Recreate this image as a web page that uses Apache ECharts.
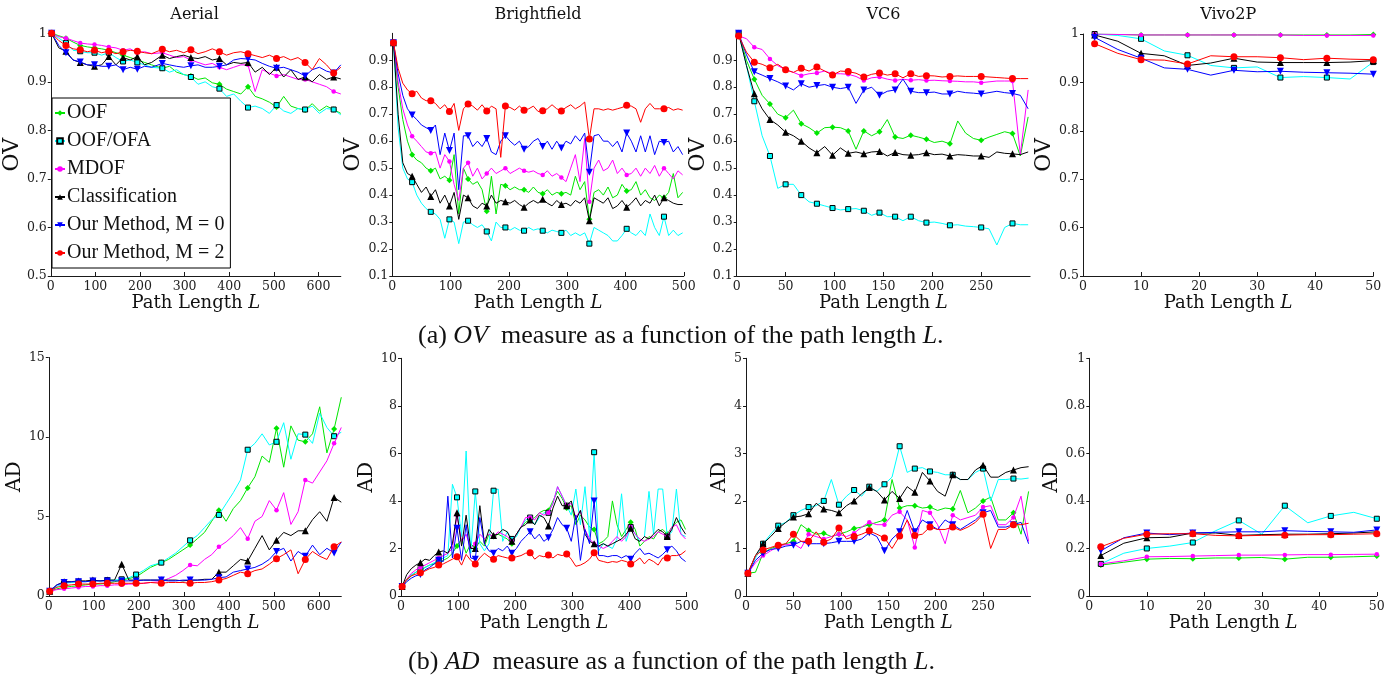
<!DOCTYPE html>
<html>
<head>
<meta charset="utf-8">
<script src="https://cdn.jsdelivr.net/npm/echarts@6/dist/echarts.min.js"></script>
<style>
  html, body { margin: 0; padding: 0; background: #fff; }
  #chart { width: 1396px; height: 677px; }
</style>
</head>
<body>
<div id="chart"></div>
<script>
// path lengths per dataset
const aerialL = [2,18,34,50,66,82,98,114,130,146,162,178,194,210,226,250,266,282,298,314,330,346,362,378,394,410,426,442,458,474,490,506,522,538,554,570,586,602,618,634,650];
const aerialMarks = [0,2,4,6,8,10,12,15,19,23,27,31,35,39];
const brightL = [2,10,18,26,34,42,50,58,66,74,82,90,98,106,114,122,130,138,146,154,162,170,178,186,194,202,210,218,226,234,242,250,258,266,274,282,290,298,306,314,322,330,338,346,354,362,370,378,386,394,402,410,418,426,434,442,450,458,466,474,482,490,498];
const brightMarks = [0,4,8,12,16,20,24,28,32,36,42,50,58];
const vc6L = [2,10,18,26,34,42,50,58,66,74,82,90,98,106,114,122,130,138,146,154,162,170,178,186,194,202,210,218,226,234,242,250,258,266,274,282,290,298];
const vc6Marks = [0,2,4,6,8,10,12,14,16,18,20,22,24,27,31,35];
const vivoL = [2,6,10,14,18,22,26,30,34,38,42,46,50];
const vivoMarks = [0,2,4,6,8,10,12];

// Aerial OV
const aerOV_oof = [1.0,0.995,0.99,0.982,0.975,0.972,0.97,0.968,0.965,0.96,0.955,0.95,0.945,0.94,0.935,0.928,0.932,0.92,0.915,0.912,0.905,0.908,0.898,0.895,0.885,0.88,0.875,0.89,0.87,0.865,0.858,0.848,0.87,0.85,0.845,0.842,0.855,0.84,0.85,0.843,0.835];
const aerOV_ofa = [1.0,0.99,0.98,0.965,0.963,0.96,0.96,0.955,0.96,0.95,0.942,0.945,0.94,0.935,0.93,0.928,0.92,0.925,0.915,0.91,0.895,0.9,0.89,0.886,0.87,0.875,0.86,0.847,0.85,0.845,0.835,0.852,0.84,0.835,0.845,0.843,0.85,0.835,0.845,0.843,0.832];
const aerOV_mdof = [1.0,0.993,0.99,0.985,0.98,0.978,0.977,0.975,0.972,0.97,0.965,0.968,0.96,0.962,0.958,0.96,0.955,0.95,0.952,0.945,0.94,0.935,0.938,0.93,0.925,0.93,0.935,0.935,0.88,0.925,0.918,0.912,0.915,0.91,0.905,0.905,0.9,0.895,0.89,0.88,0.875];
const aerOV_cls = [1.0,0.97,0.963,0.945,0.94,0.935,0.932,0.935,0.952,0.935,0.95,0.945,0.952,0.935,0.94,0.955,0.948,0.952,0.955,0.95,0.948,0.952,0.945,0.948,0.935,0.94,0.938,0.94,0.92,0.93,0.915,0.93,0.91,0.925,0.905,0.91,0.9,0.915,0.905,0.91,0.906];
const aerOV_m0 = [1.0,0.975,0.96,0.945,0.941,0.935,0.935,0.932,0.932,0.935,0.925,0.93,0.926,0.932,0.93,0.938,0.935,0.932,0.93,0.933,0.935,0.93,0.93,0.932,0.935,0.945,0.948,0.947,0.945,0.938,0.932,0.928,0.93,0.925,0.92,0.912,0.925,0.93,0.922,0.918,0.935];
const aerOV_m2 = [1.0,0.985,0.975,0.968,0.966,0.962,0.965,0.96,0.963,0.958,0.962,0.965,0.963,0.96,0.958,0.967,0.962,0.965,0.96,0.966,0.958,0.962,0.968,0.962,0.955,0.96,0.962,0.958,0.954,0.95,0.955,0.948,0.952,0.945,0.95,0.94,0.925,0.948,0.935,0.918,0.93];

// Aerial AD
const aerAD_oof = [0.3,0.45,0.55,0.6,0.65,0.7,0.75,0.75,0.8,0.9,1.0,1.1,1.2,1.5,1.8,2.1,2.3,2.6,2.9,3.2,3.6,4.0,4.7,5.4,4.7,5.5,6.0,6.8,7.5,8.8,8.4,10.55,8.1,10.7,9.8,9.7,10.2,11.9,9.0,10.5,12.5];
const aerAD_ofa = [0.3,0.6,0.8,0.85,0.9,0.9,0.95,0.95,1.0,1.0,1.05,1.15,1.35,1.6,1.9,2.1,2.4,2.7,3.1,3.5,3.8,4.3,4.8,5.1,5.8,6.5,7.3,9.2,9.6,10.2,9.5,9.7,10.9,8.6,10.2,10.15,9.6,11.5,10.6,10.05,10.3];
const aerAD_mdof = [0.3,0.4,0.45,0.5,0.55,0.6,0.6,0.65,0.65,0.7,0.7,0.75,0.75,0.8,0.85,0.9,1.1,1.3,1.6,1.95,1.9,2.3,2.6,3.1,3.4,3.8,4.3,3.6,4.7,5.0,6.0,5.4,6.5,4.5,5.3,7.3,7.1,7.8,8.5,9.6,10.6];
const aerAD_cls = [0.3,0.7,0.9,0.9,0.95,0.95,1.0,0.95,1.0,1.0,2.0,1.0,1.0,1.0,1.0,1.0,1.0,1.0,0.95,1.0,1.0,1.05,1.05,1.5,1.5,1.9,2.3,2.2,3.0,3.8,2.9,3.5,4.0,3.8,4.1,4.1,4.8,5.3,4.7,6.2,5.9];
const aerAD_m0 = [0.3,0.7,0.85,0.9,0.9,0.9,0.95,0.95,0.95,0.95,0.95,0.95,0.95,1.0,1.0,1.0,0.95,0.95,1.0,1.0,1.0,1.0,1.05,1.15,1.2,1.5,1.6,1.7,1.8,2.0,2.3,2.8,3.0,2.2,2.8,2.5,3.2,2.6,3.0,2.7,3.4];
const aerAD_m2 = [0.3,0.55,0.65,0.7,0.75,0.75,0.75,0.8,0.8,0.8,0.8,0.8,0.8,0.8,0.85,0.8,0.85,0.85,0.85,0.8,0.85,0.85,0.9,1.0,1.1,1.3,1.5,1.4,1.6,1.7,2.0,2.35,2.6,2.9,1.4,2.3,2.8,2.5,2.3,3.1,3.4];

// Brightfield OV
const briOV_oof = [0.965,0.8,0.68,0.6,0.55,0.53,0.52,0.5,0.49,0.5,0.46,0.47,0.455,0.55,0.33,0.5,0.46,0.44,0.45,0.42,0.34,0.47,0.33,0.44,0.435,0.42,0.43,0.42,0.42,0.41,0.43,0.41,0.405,0.42,0.4,0.41,0.405,0.41,0.4,0.47,0.42,0.45,0.31,0.41,0.42,0.4,0.43,0.39,0.4,0.44,0.415,0.42,0.45,0.4,0.42,0.39,0.38,0.4,0.39,0.41,0.48,0.39,0.41];
const briOV_ofa = [0.965,0.65,0.5,0.46,0.448,0.4,0.37,0.35,0.338,0.33,0.31,0.24,0.31,0.3,0.22,0.3,0.305,0.29,0.28,0.29,0.265,0.23,0.3,0.28,0.28,0.27,0.28,0.27,0.268,0.28,0.27,0.275,0.268,0.26,0.27,0.265,0.26,0.27,0.25,0.26,0.25,0.26,0.22,0.28,0.27,0.26,0.25,0.23,0.23,0.25,0.275,0.26,0.25,0.27,0.25,0.33,0.28,0.25,0.32,0.25,0.27,0.25,0.26];
const briOV_mdof = [0.965,0.82,0.72,0.66,0.618,0.6,0.58,0.56,0.555,0.56,0.5,0.55,0.525,0.44,0.38,0.5,0.52,0.47,0.5,0.46,0.48,0.5,0.48,0.49,0.5,0.48,0.49,0.5,0.49,0.485,0.49,0.48,0.475,0.49,0.47,0.48,0.465,0.45,0.5,0.55,0.45,0.61,0.375,0.5,0.53,0.49,0.5,0.53,0.48,0.5,0.475,0.48,0.5,0.47,0.5,0.48,0.51,0.47,0.5,0.48,0.46,0.49,0.475];
const briOV_cls = [0.965,0.7,0.52,0.48,0.47,0.44,0.41,0.43,0.395,0.42,0.37,0.4,0.36,0.41,0.31,0.4,0.39,0.36,0.35,0.37,0.36,0.4,0.37,0.38,0.375,0.37,0.38,0.365,0.355,0.37,0.38,0.37,0.385,0.37,0.36,0.38,0.365,0.37,0.36,0.38,0.37,0.39,0.305,0.39,0.38,0.37,0.39,0.35,0.36,0.38,0.355,0.37,0.39,0.36,0.38,0.37,0.4,0.36,0.39,0.38,0.37,0.365,0.365];
const briOV_m0 = [0.965,0.85,0.77,0.72,0.697,0.68,0.66,0.65,0.64,0.66,0.55,0.63,0.565,0.63,0.42,0.62,0.62,0.58,0.6,0.58,0.61,0.56,0.55,0.6,0.62,0.6,0.585,0.6,0.57,0.58,0.6,0.61,0.58,0.6,0.57,0.6,0.575,0.6,0.59,0.62,0.6,0.63,0.485,0.62,0.625,0.6,0.6,0.58,0.6,0.56,0.63,0.6,0.56,0.62,0.56,0.62,0.55,0.6,0.595,0.6,0.56,0.58,0.55];
const briOV_m2 = [0.965,0.87,0.815,0.79,0.776,0.785,0.76,0.75,0.75,0.74,0.72,0.735,0.71,0.74,0.64,0.72,0.738,0.73,0.715,0.735,0.712,0.73,0.72,0.54,0.73,0.725,0.715,0.73,0.715,0.72,0.73,0.71,0.713,0.72,0.735,0.72,0.712,0.725,0.735,0.72,0.73,0.745,0.608,0.72,0.72,0.715,0.72,0.715,0.72,0.725,0.733,0.73,0.72,0.67,0.72,0.74,0.72,0.72,0.72,0.725,0.715,0.72,0.715];

// Brightfield AD
const briAD_oof = [0.4,0.65,0.85,1.0,1.1,1.2,1.3,1.35,1.4,1.5,1.6,1.8,2.1,2.4,1.8,2.2,2.0,2.3,2.1,2.6,2.5,2.6,2.5,2.4,2.2,2.6,2.9,3.1,3.2,3.3,3.5,3.6,3.6,4.0,4.4,4.1,3.7,3.8,3.0,3.4,3.2,2.9,2.8,2.2,2.3,2.5,4.0,3.0,2.5,2.8,3.1,2.8,2.1,2.3,2.5,2.4,2.7,2.8,2.6,2.9,3.1,3.2,2.8];
const briAD_ofa = [0.4,0.7,0.9,1.0,1.1,1.2,1.3,1.4,1.5,1.6,1.7,4.7,4.15,2.5,6.1,1.8,4.4,2.2,1.9,2.2,4.43,4.5,2.3,2.7,2.4,2.5,2.9,3.2,3.3,3.0,3.3,3.5,3.5,3.9,4.6,4.2,3.8,3.4,4.5,3.0,4.6,2.5,6.05,1.9,2.2,2.1,2.0,2.4,4.3,2.3,2.9,2.6,2.3,2.5,4.4,2.6,4.5,4.5,2.5,2.7,4.5,2.6,2.5];
const briAD_mdof = [0.4,0.7,0.95,1.1,1.2,1.3,1.4,1.5,1.6,1.7,1.8,2.0,3.4,2.3,2.6,2.0,2.2,2.6,2.4,2.6,2.5,2.7,2.6,2.5,2.3,2.6,2.9,3.3,3.3,3.2,3.5,3.4,3.5,3.9,4.6,4.2,3.8,3.9,3.3,3.6,2.8,2.4,2.2,2.1,2.0,2.1,2.3,2.5,2.3,2.5,2.9,2.6,2.4,2.3,2.4,2.5,2.7,2.6,2.5,2.9,3.0,2.6,2.4];
const briAD_cls = [0.4,0.9,1.15,1.3,1.4,1.55,1.5,1.7,1.85,1.9,1.8,2.2,3.5,2.1,3.4,2.0,2.0,3.8,2.2,2.8,2.55,2.6,2.8,2.7,2.3,2.6,2.9,3.0,3.2,3.0,3.4,3.3,2.95,3.7,4.2,3.8,3.8,4.0,3.2,3.6,2.6,2.3,2.2,2.1,2.2,2.1,2.2,2.3,2.4,2.6,2.85,2.4,2.3,2.5,2.4,2.6,2.8,2.7,2.5,2.8,3.3,2.9,2.6];
const briAD_m0 = [0.4,0.6,0.75,0.85,0.9,1.1,1.2,1.35,1.5,1.45,4.2,1.6,2.85,1.5,3.0,1.6,1.55,3.3,2.2,1.9,1.8,2.0,1.9,2.1,1.8,2.0,2.3,2.5,2.7,2.4,2.6,2.3,2.45,2.8,3.3,3.0,2.85,2.3,3.4,1.5,2.8,2.2,4.0,1.7,1.7,1.65,1.7,1.7,1.6,1.7,1.55,1.8,2.0,1.75,1.8,1.7,1.6,1.75,1.95,2.1,1.9,1.6,1.45];
const briAD_m2 = [0.4,0.7,0.85,0.92,0.98,1.05,1.15,1.2,1.3,1.35,1.45,1.55,1.65,1.3,1.75,1.5,1.35,1.6,1.8,1.65,1.55,1.7,1.65,1.6,1.6,1.65,1.7,1.8,1.82,1.55,1.7,1.65,1.72,1.6,1.75,1.7,1.77,1.55,1.25,1.3,1.4,1.55,1.82,1.5,1.45,1.4,1.45,1.42,1.5,1.45,1.35,1.45,1.6,1.35,1.55,1.45,1.3,1.6,1.6,1.7,1.7,1.75,1.9];

// VC6 OV
const vcOV_oof = [1.0,0.9,0.83,0.77,0.738,0.7,0.687,0.715,0.665,0.65,0.63,0.65,0.652,0.65,0.638,0.57,0.638,0.62,0.635,0.68,0.615,0.61,0.622,0.615,0.607,0.595,0.6,0.59,0.675,0.63,0.61,0.603,0.615,0.625,0.635,0.628,0.545,0.69];
const vcOV_ofa = [1.0,0.88,0.748,0.62,0.545,0.425,0.44,0.44,0.4,0.375,0.368,0.36,0.352,0.345,0.348,0.35,0.342,0.325,0.335,0.32,0.32,0.305,0.32,0.305,0.298,0.3,0.295,0.288,0.29,0.285,0.283,0.28,0.275,0.215,0.28,0.295,0.29,0.29];
const vcOV_mdof = [0.99,0.98,0.948,0.94,0.905,0.88,0.865,0.855,0.843,0.85,0.853,0.86,0.85,0.85,0.848,0.84,0.825,0.835,0.838,0.83,0.825,0.83,0.826,0.828,0.825,0.826,0.824,0.823,0.822,0.82,0.82,0.817,0.82,0.823,0.823,0.823,0.55,0.79];
const vcOV_cls = [1.0,0.88,0.776,0.72,0.68,0.66,0.633,0.62,0.6,0.575,0.557,0.58,0.548,0.575,0.555,0.56,0.553,0.56,0.562,0.545,0.558,0.55,0.548,0.55,0.557,0.55,0.552,0.545,0.55,0.548,0.545,0.545,0.54,0.56,0.555,0.553,0.55,0.56];
const vcOV_m0 = [1.0,0.92,0.857,0.845,0.832,0.82,0.805,0.79,0.813,0.8,0.806,0.81,0.8,0.795,0.8,0.74,0.79,0.8,0.77,0.785,0.79,0.83,0.785,0.78,0.78,0.782,0.775,0.775,0.785,0.78,0.778,0.775,0.78,0.785,0.78,0.777,0.77,0.72];
const vcOV_m2 = [0.99,0.93,0.893,0.885,0.872,0.885,0.865,0.855,0.87,0.86,0.875,0.86,0.845,0.86,0.858,0.852,0.838,0.848,0.853,0.845,0.85,0.835,0.85,0.84,0.843,0.842,0.838,0.84,0.842,0.84,0.84,0.84,0.838,0.836,0.834,0.832,0.832,0.832];

// VC6 AD
const vcAD_oof = [0.48,0.5,0.9,1.0,1.05,1.1,1.15,1.5,1.38,1.3,1.32,1.25,1.3,1.35,1.42,1.45,1.5,1.55,1.6,2.45,1.85,1.9,1.9,1.85,1.87,1.8,1.85,1.83,2.22,1.75,1.85,2.0,2.08,1.6,1.6,1.75,1.3,2.2];
const vcAD_ofa = [0.48,0.8,1.1,1.3,1.48,1.55,1.7,1.8,1.87,1.9,2.0,2.45,1.92,2.1,2.23,2.1,2.3,2.2,2.35,2.5,3.15,2.6,2.68,2.7,2.62,2.6,2.55,2.55,2.45,2.45,2.6,2.68,2.0,2.45,2.45,2.47,2.46,2.48];
const vcAD_mdof = [0.48,0.7,0.85,0.95,1.05,1.08,1.1,1.0,1.3,1.25,1.2,1.25,1.3,1.25,1.32,1.45,1.55,1.5,1.5,1.7,1.77,1.6,1.02,1.8,1.75,1.5,1.1,1.7,1.6,1.65,1.7,1.87,1.9,1.5,1.5,1.65,2.1,1.15];
const vcAD_cls = [0.48,0.85,1.1,1.25,1.42,1.55,1.66,1.68,1.73,1.95,1.83,1.8,1.75,1.9,2.0,2.15,2.28,2.2,2.02,2.2,2.05,2.3,2.18,2.6,2.42,2.2,2.1,2.55,2.45,2.45,2.65,2.75,2.5,2.5,2.6,2.65,2.7,2.72];
const vcAD_m0 = [0.48,0.75,0.9,0.98,1.0,1.05,1.07,1.15,1.1,1.1,1.1,1.12,1.15,1.15,1.15,1.2,1.33,1.25,0.95,1.2,1.35,1.8,1.35,1.6,1.5,1.4,1.6,1.5,1.4,1.5,1.6,1.75,1.8,1.45,1.45,1.5,1.55,1.1];
const vcAD_m2 = [0.48,0.85,0.97,1.02,1.07,1.1,1.3,1.15,1.15,1.35,1.13,1.2,1.43,1.2,1.25,1.3,1.37,1.3,1.22,1.0,1.26,1.6,1.27,1.3,1.45,1.4,1.4,1.45,1.38,1.45,1.55,1.72,1.0,1.4,1.4,1.5,1.5,1.53];

// Vivo2P OV
const vivOV_oof = [1.0,0.999,0.998,0.998,0.998,0.998,0.998,0.998,0.998,0.998,0.998,0.998,0.999];
const vivOV_ofa = [1.0,0.997,0.99,0.965,0.956,0.935,0.93,0.932,0.91,0.912,0.91,0.907,0.942];
const vivOV_mdof = [1.0,0.999,0.998,0.998,0.998,0.998,0.998,0.998,0.998,0.997,0.997,0.997,0.997];
const vivOV_cls = [0.998,0.985,0.96,0.955,0.935,0.94,0.95,0.942,0.941,0.941,0.941,0.942,0.945];
const vivOV_m0 = [0.993,0.968,0.95,0.93,0.927,0.915,0.925,0.922,0.923,0.921,0.92,0.919,0.917];
const vivOV_m2 = [0.98,0.96,0.947,0.946,0.938,0.955,0.953,0.953,0.951,0.947,0.95,0.948,0.947];

// Vivo2P AD
const vivAD_oof = [0.13,0.142,0.155,0.158,0.157,0.16,0.16,0.162,0.155,0.163,0.163,0.165,0.168];
const vivAD_ofa = [0.135,0.18,0.2,0.21,0.225,0.275,0.318,0.26,0.38,0.308,0.337,0.352,0.325];
const vivAD_mdof = [0.135,0.148,0.165,0.166,0.168,0.17,0.172,0.172,0.173,0.174,0.174,0.175,0.176];
const vivAD_cls = [0.17,0.222,0.245,0.247,0.265,0.265,0.255,0.258,0.26,0.26,0.262,0.265,0.27];
const vivAD_m0 = [0.19,0.245,0.265,0.258,0.265,0.268,0.27,0.27,0.275,0.272,0.27,0.268,0.278];
const vivAD_m2 = [0.207,0.243,0.26,0.262,0.262,0.255,0.253,0.255,0.256,0.258,0.258,0.26,0.262];

const methods = [
  { name: 'OOF', color: '#00e600', symbol: 'diamond', size: 6 },
  { name: 'OOF/OFA', color: '#00ffff', symbol: 'rect', size: 5, border: '#000' },
  { name: 'MDOF', color: '#ff00ff', symbol: 'circle', size: 4.5 },
  { name: 'Classification', color: '#000000', symbol: 'triangle', size: 7 },
  { name: 'Our Method, M = 0', color: '#0000ff', symbol: 'path://M0,0L10,0L5,9Z', size: 7 },
  { name: 'Our Method, M = 2', color: '#ff0000', symbol: 'circle', size: 7 }
];

const panels = [
  { L: aerialL, marks: aerialMarks, ys: [aerOV_oof, aerOV_ofa, aerOV_mdof, aerOV_cls, aerOV_m0, aerOV_m2] },
  { L: brightL, marks: brightMarks, ys: [briOV_oof, briOV_ofa, briOV_mdof, briOV_cls, briOV_m0, briOV_m2] },
  { L: vc6L, marks: vc6Marks, ys: [vcOV_oof, vcOV_ofa, vcOV_mdof, vcOV_cls, vcOV_m0, vcOV_m2] },
  { L: vivoL, marks: vivoMarks, ys: [vivOV_oof, vivOV_ofa, vivOV_mdof, vivOV_cls, vivOV_m0, vivOV_m2] },
  { L: aerialL, marks: aerialMarks, ys: [aerAD_oof, aerAD_ofa, aerAD_mdof, aerAD_cls, aerAD_m0, aerAD_m2] },
  { L: brightL, marks: brightMarks, ys: [briAD_oof, briAD_ofa, briAD_mdof, briAD_cls, briAD_m0, briAD_m2] },
  { L: vc6L, marks: vc6Marks, ys: [vcAD_oof, vcAD_ofa, vcAD_mdof, vcAD_cls, vcAD_m0, vcAD_m2] },
  { L: vivoL, marks: vivoMarks, ys: [vivAD_oof, vivAD_ofa, vivAD_mdof, vivAD_cls, vivAD_m0, vivAD_m2] }
];

// layout of the 8 panels (px)
const grids = [
  { left: 48.3, top: 33.3, width: 292.5, height: 242.7 },
  { left: 392.3, top: 33.3, width: 291.5, height: 242.7 },
  { left: 736.7, top: 33.3, width: 293.4, height: 242.7 },
  { left: 1083, top: 34, width: 290.3, height: 242 },
  { left: 48.8, top: 357.5, width: 292.5, height: 238.5 },
  { left: 401, top: 358.3, width: 285.7, height: 237.7 },
  { left: 746, top: 358.3, width: 284.5, height: 237.7 },
  { left: 1089.3, top: 358.3, width: 287.5, height: 237.7 }
];
const xRange = [[0, 650, 100, false], [0, 500, 100, true], [0, 300, 50, false], [0, 50, 10, true]];
const yRange = [[0.5, 1, 0.1, true], [0.1, 1, 0.1, false], [0.1, 1, 0.1, false], [0.5, 1, 0.1, true],
                [0, 15, 5, true], [0, 10, 2, true], [0, 5, 1, true], [0, 1, 0.2, true]];
const yNames = ['OV', 'OV', 'OV', 'OV', 'AD', 'AD', 'AD', 'AD'];
const yNameGap = [22, 28, 22, 25, 12, 19, 13, 24];
const titles = ['Aerial', 'Brightfield', 'VC6', 'Vivo2P'];

const serif = '"Liberation Serif", "Times New Roman", serif';
const wide = '"DejaVu Serif", serif';
const axisCol = '#1a1a1a';

const xAxis = [], yAxis = [], series = [];
grids.forEach((g, i) => {
  const xr = xRange[i % 4], yr = yRange[i];
  xAxis.push({
    type: 'value', gridIndex: i, min: xr[0], max: xr[1], interval: xr[2],
    name: 'Path Length {i|L}', nameLocation: 'middle', nameGap: i < 4 ? 13 : 12,
    nameTextStyle: { fontFamily: wide, fontSize: 18, color: '#111',
      rich: { i: { fontFamily: wide, fontSize: 18, fontStyle: 'italic', color: '#111' } } },
    axisLine: { onZero: false, lineStyle: { color: axisCol, width: 1 } },
    axisTick: { inside: true, length: 4, lineStyle: { color: axisCol } },
    axisLabel: { fontFamily: wide, fontSize: 12.5, color: '#222', margin: 4, showMaxLabel: xr[3], showMinLabel: true },
    splitLine: { show: false }
  });
  yAxis.push({
    type: 'value', gridIndex: i, min: yr[0], max: yr[1], interval: yr[2],
    name: yNames[i], nameLocation: 'middle', nameGap: yNameGap[i],
    nameTextStyle: { fontFamily: wide, fontSize: i < 4 ? 22 : 20, color: '#111' },
    axisLine: { onZero: false, lineStyle: { color: axisCol, width: 1 } },
    axisTick: { inside: false, length: 3, lineStyle: { color: axisCol } },
    axisLabel: { fontFamily: wide, fontSize: 12.5, color: '#222', margin: 4, showMaxLabel: yr[3] },
    splitLine: { show: false }
  });
  const p = panels[i];
  methods.forEach((m, k) => {
    const data = p.ys[k].map((v, j) =>
      p.marks.indexOf(j) >= 0 ? [p.L[j], v] : { value: [p.L[j], v], symbol: 'none' });
    series.push({
      type: 'line', name: m.name, xAxisIndex: i, yAxisIndex: i, data: data,
      symbol: m.symbol, symbolSize: m.size, showAllSymbol: true,
      lineStyle: { color: m.color, width: 1 },
      itemStyle: { color: m.color, borderColor: m.border || m.color, borderWidth: m.border ? 1 : 0, opacity: 1 },
      emphasis: { disabled: true }, z: 2 + k
    });
  });
});

const graphic = titles.map((t, i) => ({
  type: 'text', x: grids[i].left + grids[i].width / 2, y: 15,
  style: { text: t, fontFamily: wide, fontSize: 16, fill: '#111', align: 'center', verticalAlign: 'middle' }
}));
const capRich = {
  n: { fontFamily: serif, fontSize: 26, fill: '#111' },
  i: { fontFamily: serif, fontSize: 26, fontStyle: 'italic', fill: '#111' }
};
graphic.push({ type: 'text', x: 418, y: 336,
  style: { text: '{n|(a) }{i|OV}{n|  measure as a function of the path length }{i|L}{n|.}', rich: capRich, verticalAlign: 'middle', align: 'left' } });
graphic.push({ type: 'text', x: 408, y: 662,
  style: { text: '{n|(b) }{i|AD}{n|  measure as a function of the path length }{i|L}{n|.}', rich: capRich, verticalAlign: 'middle', align: 'left' } });

const chart = echarts.init(document.getElementById('chart'), null, { renderer: 'canvas' });
chart.setOption({
  animation: false,
  backgroundColor: '#fff',
  grid: grids.map(g => Object.assign({ containLabel: false }, g)),
  xAxis: xAxis,
  yAxis: yAxis,
  legend: {
    orient: 'vertical', left: 52, top: 98,
    data: methods.map(m => m.name),
    itemWidth: 10, itemHeight: 7, itemGap: 8,
    padding: [5, 6, 5, 2],
    backgroundColor: '#fff', borderColor: '#000', borderWidth: 1,
    textStyle: { fontFamily: serif, fontSize: 20, color: '#111', padding: [0, 0, 0, -3] },
    selectedMode: false
  },
  graphic: graphic,
  series: series
});
</script>
</body>
</html>
